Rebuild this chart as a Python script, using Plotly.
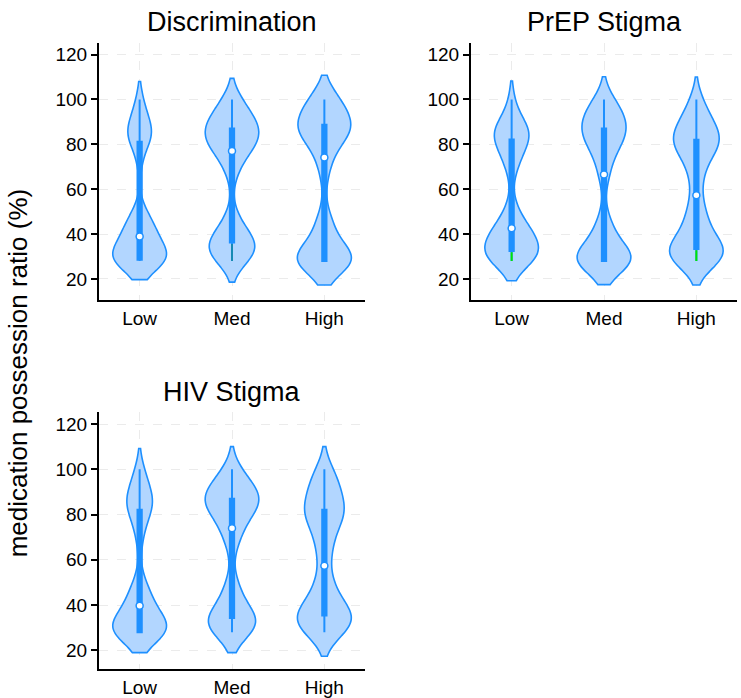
import numpy as np
import plotly.graph_objects as go

# ---------------- data ----------------
categories = ["Low", "Med", "High"]
panel_titles = ["Discrimination", "PrEP Stigma", "HIV Stigma"]
y_title = "medication possession ratio (%)"
y_ticks = [20, 40, 60, 80, 100, 120]

disc_low = [28, 28, 28, 28, 28, 28, 28, 28, 28, 28.2, 29, 30, 31, 32, 33, 34, 35, 36, 37, 38,
            39.8, 41, 42, 44, 45, 46, 47, 50, 72, 80, 82.4, 83, 84, 85, 86, 88, 90, 92, 96, 100]
disc_med = [28, 29, 30, 31, 32, 33, 34, 35, 35, 36, 36.4, 38, 40, 42, 45, 48, 66, 71, 74, 76,
            78, 79, 80, 81, 82, 83, 84, 85, 86, 87, 87.2, 88, 89, 90, 92, 93, 95, 97, 99, 100]
disc_high = [28, 28, 28, 28, 28, 28, 28, 28, 28, 28, 28, 31, 33, 36, 39, 42, 45, 48, 66, 72,
             76.2, 79, 82, 84, 85, 86, 86, 87, 88, 88.4, 89, 90, 91, 93, 95, 97, 100, 100, 100, 100]

prep_low = [28, 28, 28, 29, 30, 30, 31, 31, 32, 32, 33, 34, 35, 37, 38, 39, 40, 41, 41, 42,
            43.2, 46, 49, 53, 68, 72, 75, 77, 79, 81, 83.2, 84, 84, 85, 86, 87, 88, 90, 93, 100]
prep_med = [28, 28, 28, 28, 28, 28, 28, 28, 28, 28, 28, 30, 32, 34, 36, 38, 41, 44, 47, 65,
            68.2, 73, 77, 79, 81, 82, 83, 84, 85, 86, 88.2, 89, 90, 91, 92, 94, 95, 97, 99, 100]
prep_high = [28, 28, 28, 29, 30, 30, 31, 32, 32, 33, 33.8, 35, 36, 38, 40, 42, 45, 48, 51, 53,
             61.6, 66, 70, 74, 76, 78, 79, 80, 81, 81, 83, 84, 85, 86, 88, 89, 91, 94, 97, 100]

hiv_low = [28, 28, 28, 28, 28, 28, 28, 28, 28, 28, 28, 30, 31, 32, 33, 34, 35, 36, 37, 39,
           40.4, 42, 44, 46, 48, 51, 68, 74, 78, 81, 83.2, 84, 85, 86, 87, 89, 91, 94, 97, 100]
hiv_med = [28, 28, 29, 30, 31, 32, 32, 33, 33, 34, 34.6, 36, 38, 41, 44, 47, 50, 66, 70, 73,
           75, 78, 80, 82, 83, 84, 85, 85, 86, 86.5, 87.5, 88, 89, 90, 91, 93, 94, 96, 98, 100]
hiv_high = [28, 28, 29, 30, 31, 32, 33, 33, 34, 35, 35.8, 36, 37, 38, 40, 42, 44, 47, 50, 53,
            61.8, 64, 68, 72, 75, 77, 79, 80, 81, 81.4, 82.8, 84, 86, 88, 90, 92, 94, 96, 98, 100]

panel_data = [[disc_low, disc_med, disc_high],
              [prep_low, prep_med, prep_high],
              [hiv_low, hiv_med, hiv_high]]

# density extents (violin span) and kernel bandwidths
panel_spans = [[[19.7, 108.0], [18.6, 109.4], [17.3, 110.8]],
               [[19.2, 108.2], [17.5, 110.1], [17.3, 110.0]],
               [[19.0, 109.2], [19.0, 110.0], [17.4, 110.0]]]
panel_bw = [[6.2, 6.5, 6.8],
            [6.3, 6.6, 6.6],
            [6.4, 6.6, 6.8]]

# ---------------- style ----------------
BLUE = "#1E90FF"
FILL = "#B2D6FF"
TEAL = "#168AB4"
GREEN = "#00E600"
lower_whisker_colors = [[TEAL, TEAL, None],
                        [GREEN, None, GREEN],
                        [None, None, None]]
FONT = "Liberation Sans, Arial, Helvetica, sans-serif"

W, H = 741, 698
x_domains = [[99 / W, 365 / W], [471 / W, 737 / W], [99 / W, 365 / W]]
y_domains = [[1 - 302 / H, 1 - 43 / H], [1 - 302 / H, 1 - 43 / H], [1 - 674 / H, 1 - 415 / H]]
y_ranges = [[10.7, 125.3], [10.7, 125.3], [11.7, 125.3]]
title_pos = [(232 / W, 1 - 22 / H), (604 / W, 1 - 22 / H), (232 / W, 1 - 395 / H)]

fig = go.Figure()

for p in range(3):
    xa = "x" if p == 0 else f"x{p + 1}"
    ya = "y" if p == 0 else f"y{p + 1}"
    for c, cat in enumerate(categories):
        vals = np.array(sorted(panel_data[p][c]), dtype=float)
        fig.add_trace(go.Violin(
            x=[cat] * len(vals), y=vals, xaxis=xa, yaxis=ya,
            width=0.58, spanmode="manual", span=panel_spans[p][c],
            bandwidth=panel_bw[p][c], scalemode="width",
            line=dict(color=BLUE, width=1.6), fillcolor=FILL, opacity=1,
            points=False,
            box=dict(visible=True, width=0.08, fillcolor=BLUE,
                     line=dict(color=BLUE, width=2)),
            meanline=dict(visible=False),
            hoverinfo="skip", showlegend=False,
        ))
        q1 = np.percentile(vals, 25, method="hazen")
        wcol = lower_whisker_colors[p][c]
        if wcol is not None:
            fig.add_trace(go.Scatter(
                x=[cat, cat], y=[vals.min(), q1 - 0.6], xaxis=xa, yaxis=ya,
                mode="lines", line=dict(color=wcol, width=2),
                hoverinfo="skip", showlegend=False,
            ))
        fig.add_trace(go.Scatter(
            x=[cat], y=[np.median(vals)], xaxis=xa, yaxis=ya,
            mode="markers",
            marker=dict(color="white", size=7, line=dict(color=BLUE, width=1.5)),
            hoverinfo="skip", showlegend=False,
        ))

layout = dict(
    width=W, height=H,
    margin=dict(l=0, r=0, t=0, b=0),
    paper_bgcolor="white", plot_bgcolor="white",
    violinmode="overlay", showlegend=False,
    font=dict(family=FONT, color="black", size=19),
)

for p in range(3):
    sx = "" if p == 0 else str(p + 1)
    layout[f"xaxis{sx}"] = dict(
        domain=x_domains[p], anchor=f"y{sx}",
        type="category", categoryorder="array", categoryarray=categories,
        range=[-0.44, 2.44],
        showline=True, linecolor="black", linewidth=2,
        showgrid=True, gridcolor="#EBEBEB", gridwidth=1, griddash="dash",
        ticks="", zeroline=False,
        tickfont=dict(family=FONT, size=19, color="black"),
    )
    layout[f"yaxis{sx}"] = dict(
        domain=y_domains[p], anchor=f"x{sx}",
        range=y_ranges[p], tickvals=y_ticks,
        showline=True, linecolor="black", linewidth=2,
        showgrid=True, gridcolor="#EBEBEB", gridwidth=1, griddash="dash",
        ticks="outside", ticklen=6, tickwidth=2, tickcolor="black",
        zeroline=False,
        tickfont=dict(family=FONT, size=19, color="black"),
    )

annotations = []
for p in range(3):
    annotations.append(dict(
        text=panel_titles[p], x=title_pos[p][0], y=title_pos[p][1],
        xref="paper", yref="paper", xanchor="center", yanchor="middle",
        showarrow=False, font=dict(family=FONT, size=27, color="black"),
    ))
annotations.append(dict(
    text=y_title, x=18 / W, y=1 - 376 / H, xref="paper", yref="paper",
    xanchor="center", yanchor="middle", textangle=-90, showarrow=False,
    font=dict(family=FONT, size=26, color="black"),
))
layout["annotations"] = annotations

fig.update_layout(**layout)
fig.write_html("out.html", config={"displayModeBar": False},
               post_script="document.body.style.margin='0px';")
